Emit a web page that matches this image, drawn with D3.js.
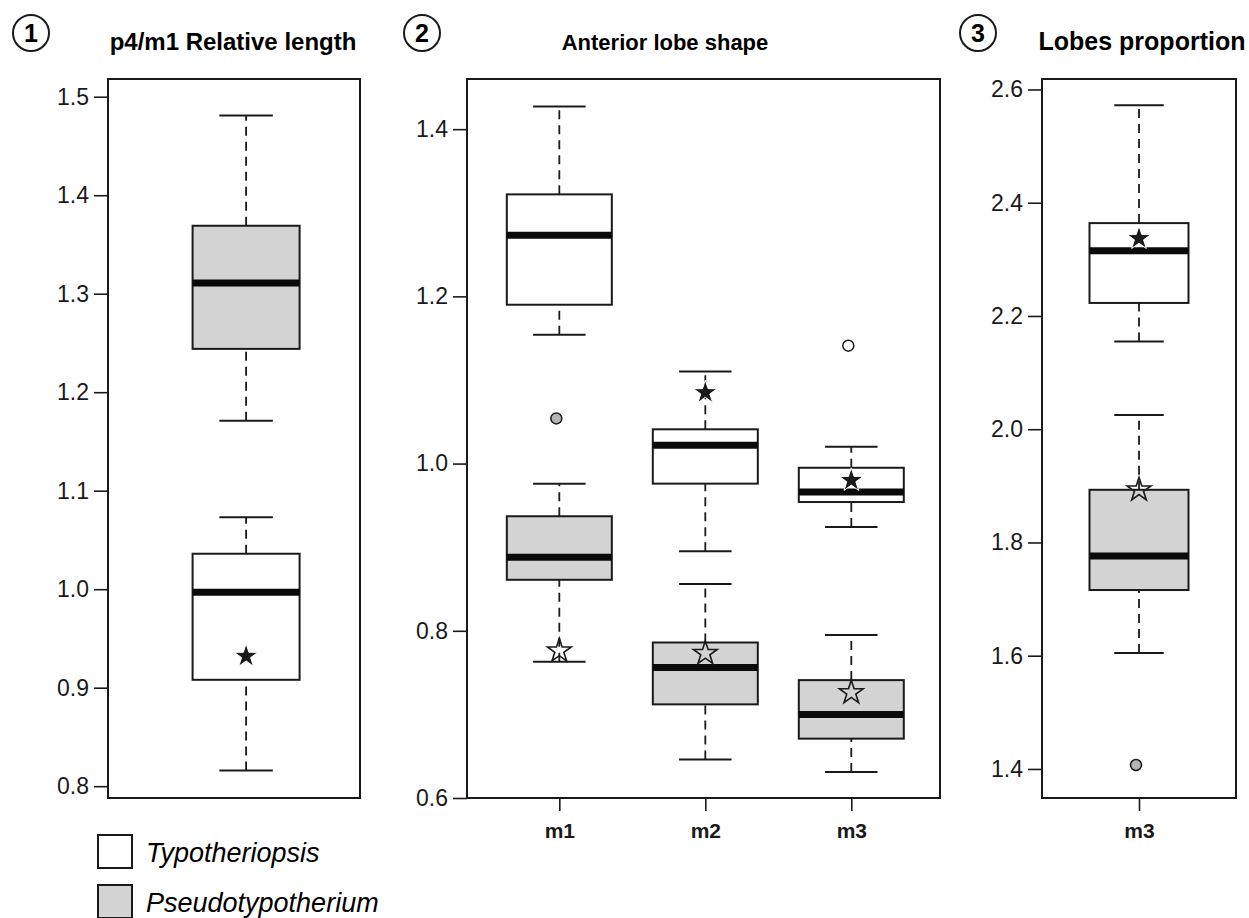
<!DOCTYPE html>
<html>
<head>
<meta charset="utf-8">
<script src="https://cdn.jsdelivr.net/npm/d3@7"></script>
<style>
  body { margin: 0; background: #fff; }
  svg { display: block; font-family: "Liberation Sans", Arial, sans-serif; }
  .axis text { fill: #1a1a1a; font-family: "Liberation Sans", Arial, sans-serif; }
  .axis line { stroke: #1a1a1a; stroke-width: 1.6; }
</style>
</head>
<body>
<div class="chart"></div>
<script>
// species
var speciesNames = ["Typotheriopsis", "Pseudotypotherium"];

// panel 1: p4/m1 relative length  (low whisker, q1, median, q3, high whisker)
var relLenCats = ["p4/m1"];
var relLenTypo = [[0.816, 0.908, 0.997, 1.036, 1.073]];
var relLenPseudo = [[1.171, 1.244, 1.311, 1.369, 1.481]];
var relLenTypoOut = [null];
var relLenPseudoOut = [null];
var relLenTypoStar = [0.932];
var relLenPseudoStar = [null];
var relLenTicks = [0.8, 0.9, 1.0, 1.1, 1.2, 1.3, 1.4, 1.5];

// panel 2: anterior lobe shape
var lobeCats = ["m1", "m2", "m3"];
var lobeTypo = [[1.154, 1.190, 1.273, 1.322, 1.427],
                [0.895, 0.976, 1.022, 1.041, 1.110],
                [0.924, 0.954, 0.966, 0.995, 1.020]];
var lobePseudo = [[0.763, 0.861, 0.888, 0.937, 0.976],
                  [0.646, 0.712, 0.756, 0.786, 0.856],
                  [0.631, 0.671, 0.700, 0.741, 0.795]];
var lobeTypoOut = [null, null, 1.141];
var lobePseudoOut = [1.054, null, null];
var lobeTypoStar = [null, 1.085, 0.980];
var lobePseudoStar = [0.776, 0.773, 0.726];
var lobeTicks = [0.6, 0.8, 1.0, 1.2, 1.4];

// panel 3: lobes proportion
var propCats = ["m3"];
var propTypo = [[2.155, 2.223, 2.315, 2.364, 2.572]];
var propPseudo = [[1.605, 1.716, 1.776, 1.893, 2.025]];
var propTypoOut = [null];
var propPseudoOut = [1.407];
var propTypoStar = [2.337];
var propPseudoStar = [1.893];
var propTicks = [1.4, 1.6, 1.8, 2.0, 2.2, 2.4, 2.6];

/*
    Layout
*/
var width = 1249, height = 918,
    grey = "#d3d3d3",
    ink = "#1a1a1a",
    plotTop = 79, plotBottom = 798;

var panels = [
  {num: "1", title: "p4/m1 Relative length", titleX: 233, titleSize: 24, numX: 31,
   cats: relLenCats, typo: relLenTypo, pseudo: relLenPseudo,
   typoOut: relLenTypoOut, pseudoOut: relLenPseudoOut,
   typoStar: relLenTypoStar, pseudoStar: relLenPseudoStar, ticks: relLenTicks,
   left: 108, right: 360, domain: [0.788, 1.518], padding: 0.5, align: 0.548, boxW: 107, xAxis: false},
  {num: "2", title: "Anterior lobe shape", titleX: 665, titleSize: 22, numX: 422,
   cats: lobeCats, typo: lobeTypo, pseudo: lobePseudo,
   typoOut: lobeTypoOut, pseudoOut: lobePseudoOut,
   typoStar: lobeTypoStar, pseudoStar: lobePseudoStar, ticks: lobeTicks,
   left: 467, right: 940, domain: [0.6, 1.46], padding: 0.62, align: 0.51, boxW: 105, xAxis: true},
  {num: "3", title: "Lobes proportion", titleX: 1142, titleSize: 25, numX: 978,
   cats: propCats, typo: propTypo, pseudo: propPseudo,
   typoOut: propTypoOut, pseudoOut: propPseudoOut,
   typoStar: propTypoStar, pseudoStar: propPseudoStar, ticks: propTicks,
   left: 1042, right: 1236, domain: [1.3487, 2.6185], padding: 0.5, align: 0.5, boxW: 99, xAxis: true}
];

var svg = d3.select("div.chart")
  .append("svg")
    .attr("width", width)
    .attr("height", height);

var star = d3.symbol().type(d3.symbolStar).size(175);

panels.forEach(function(p) {
  var g = svg.append("g");

  var y = d3.scaleLinear().domain(p.domain).range([plotBottom, plotTop]);
  var x = d3.scalePoint().domain(p.cats).range([p.left, p.right])
            .padding(p.padding).align(p.align);

  // circled number + title
  g.append("circle")
      .attr("cx", p.numX).attr("cy", 33).attr("r", 18)
      .attr("fill", "none").attr("stroke", ink).attr("stroke-width", 2);
  g.append("text")
      .attr("x", p.numX).attr("y", 42)
      .attr("text-anchor", "middle")
      .style("font-size", "25px").style("font-weight", "bold")
      .text(p.num);
  g.append("text")
      .attr("x", p.titleX).attr("y", 50)
      .attr("text-anchor", "middle")
      .style("font-size", p.titleSize + "px").style("font-weight", "bold")
      .text(p.title);

  // y axis
  g.append("g")
      .attr("class", "axis")
      .attr("transform", "translate(" + p.left + ",0)")
      .call(d3.axisLeft(y).tickValues(p.ticks).tickFormat(d3.format(".1f"))
              .tickSize(14).tickPadding(5))
      .call(function(a) { a.select(".domain").remove(); })
      .selectAll("text").style("font-size", "23px");

  // x axis
  if (p.xAxis) {
    g.append("g")
        .attr("class", "axis")
        .attr("transform", "translate(0," + plotBottom + ")")
        .call(d3.axisBottom(x).tickSize(13).tickPadding(12))
        .call(function(a) { a.select(".domain").remove(); })
        .selectAll("text").style("font-size", "21px").style("font-weight", "bold");
  }

  // boxes: Typotheriopsis (white) then Pseudotypotherium (grey)
  var groups = [
    {stats: p.typo, fill: "#fff", out: p.typoOut, outFill: "#fff", star: p.typoStar, starFill: ink, starStroke: "#fff"},
    {stats: p.pseudo, fill: grey, out: p.pseudoOut, outFill: "#b5b5b5", star: p.pseudoStar, starFill: "none", starStroke: ink}
  ];

  groups.forEach(function(s) {
    p.cats.forEach(function(c, i) {
      var v = s.stats[i], cx = x(c), w = p.boxW;
      var bg = g.append("g");

      // whiskers
      bg.selectAll("line.whisker")
        .data([[v[0], v[1]], [v[3], v[4]]])
        .enter().append("line")
          .attr("x1", cx).attr("x2", cx)
          .attr("y1", function(d) { return y(d[0]); })
          .attr("y2", function(d) { return y(d[1]); })
          .attr("stroke", ink).attr("stroke-width", 1.8)
          .attr("stroke-dasharray", "9,6");
      bg.selectAll("line.cap")
        .data([v[0], v[4]])
        .enter().append("line")
          .attr("x1", cx - w / 4).attr("x2", cx + w / 4)
          .attr("y1", function(d) { return y(d); })
          .attr("y2", function(d) { return y(d); })
          .attr("stroke", ink).attr("stroke-width", 2);

      // box + median
      bg.append("rect")
          .attr("x", cx - w / 2).attr("width", w)
          .attr("y", y(v[3])).attr("height", y(v[1]) - y(v[3]))
          .attr("fill", s.fill).attr("stroke", ink).attr("stroke-width", 2);
      bg.append("line")
          .attr("x1", cx - w / 2).attr("x2", cx + w / 2)
          .attr("y1", y(v[2])).attr("y2", y(v[2]))
          .attr("stroke", "#0a0a0a").attr("stroke-width", 7);

      // outlier
      if (s.out[i] != null) {
        bg.append("circle")
            .attr("cx", cx - 3).attr("cy", y(s.out[i])).attr("r", 5.5)
            .attr("fill", s.outFill).attr("stroke", ink).attr("stroke-width", 1.5);
      }
    });
  });

  // stars on top
  groups.forEach(function(s) {
    p.cats.forEach(function(c, i) {
      if (s.star[i] == null) return;
      g.append("path")
          .attr("d", star())
          .attr("transform", "translate(" + x(c) + "," + y(s.star[i]) + ")")
          .attr("fill", s.starFill)
          .attr("stroke", s.starStroke)
          .attr("stroke-width", s.starFill === "none" ? 1.6 : 1);
    });
  });

  // frame
  g.append("rect")
      .attr("x", p.left).attr("y", plotTop)
      .attr("width", p.right - p.left).attr("height", plotBottom - plotTop)
      .attr("fill", "none").attr("stroke", ink).attr("stroke-width", 2);
});

/*
    Legend
*/
var legend = svg.append("g").attr("class", "legend");
var legendFills = ["#fff", grey];

legend.selectAll("rect")
  .data(speciesNames)
  .enter().append("rect")
    .attr("x", 98)
    .attr("y", function(d, i) { return 835 + i * 50; })
    .attr("width", 34).attr("height", 33)
    .attr("fill", function(d, i) { return legendFills[i]; })
    .attr("stroke", ink).attr("stroke-width", 2);

legend.selectAll("text")
  .data(speciesNames)
  .enter().append("text")
    .attr("x", 146)
    .attr("y", function(d, i) { return 862 + i * 50; })
    .style("font-size", "27px").style("font-style", "italic")
    .text(function(d) { return d; });
</script>
</body>
</html>
